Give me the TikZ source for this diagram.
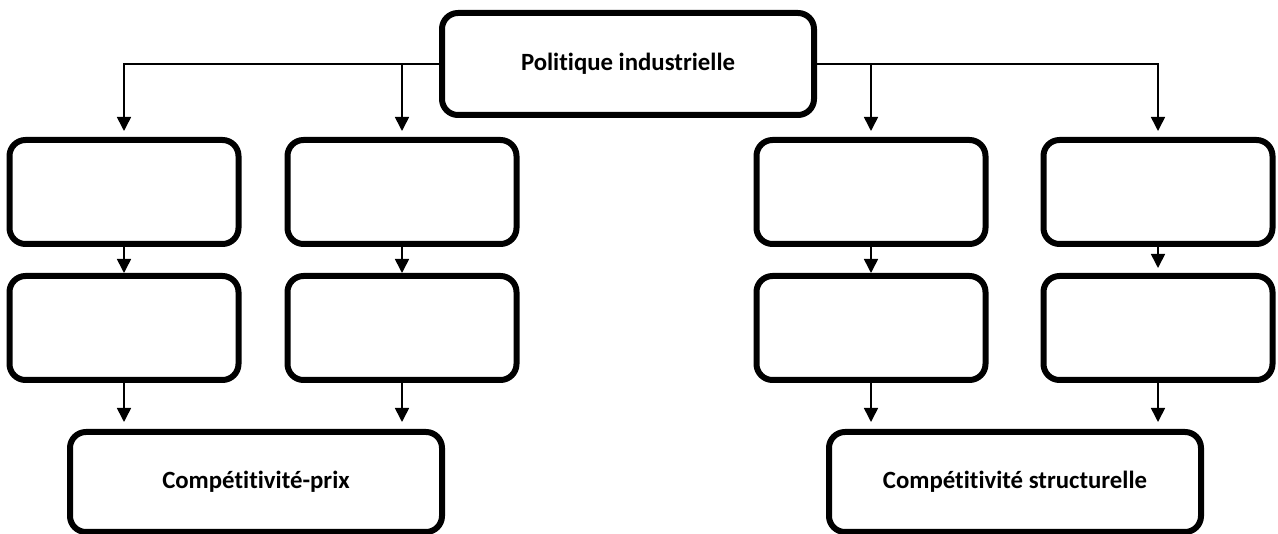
\documentclass[tikz,border=0pt]{standalone}
\usepackage{fontspec}
\setmainfont{Carlito}[Ligatures=NoCommon]
\usetikzlibrary{arrows.meta}
\tikzset{
  box/.style={draw, line width=6pt, rounded corners=16pt, fill=white,
    inner sep=0pt, font=\bfseries\fontsize{24.8}{29}\selectfont},
  smallbox/.style={box, minimum width=229pt, minimum height=104pt},
  bigbox/.style={box, minimum width=372pt},
  arr/.style={draw, line width=1.6pt, -{Triangle[width=14pt,length=14pt]}}
}
\begin{document}
\begin{tikzpicture}[x=1pt,y=-1pt]
\useasboundingbox (0,0) rectangle (1278,534);
\node[bigbox, minimum height=102pt] (top) at (628,64) {Politique industrielle};
\node[smallbox] (A) at (124,192) {};
\node[smallbox] (B) at (402,192) {};
\node[smallbox] (C) at (871,192) {};
\node[smallbox] (D) at (1158,192) {};
\node[smallbox, minimum height=104pt] (A2) at (124,328) {};
\node[smallbox, minimum height=104pt] (B2) at (402,328) {};
\node[smallbox, minimum height=104pt] (C2) at (871,328) {};
\node[smallbox, minimum height=104pt] (D2) at (1158,328) {};
\node[bigbox, minimum height=100pt] (L) at (256,482) {Compétitivité-prix};
\node[bigbox, minimum height=100pt] (R) at (1015,482) {Compétitivité structurelle};
% top connectors
\draw[arr, shorten >=6pt] (top.west) -| (A);
\draw[arr, shorten >=6pt] (top.west -| B) -- (B);
\draw[arr, shorten >=6pt] (top.east) -| (D);
\draw[arr, shorten >=6pt] (top.east -| C) -- (C);
% row 1 to row 2
\draw[arr] (A) -- (A2);
\draw[arr] (B) -- (B2);
\draw[arr] (C) -- (C2);
\draw[arr, shorten >=5pt] (D) -- (D2);
% row 2 to bottom
\draw[arr, shorten >=7pt] (A2) -- (A2 |- L.north);
\draw[arr, shorten >=7pt] (B2) -- (B2 |- L.north);
\draw[arr, shorten >=7pt] (C2) -- (C2 |- R.north);
\draw[arr, shorten >=7pt] (D2) -- (D2 |- R.north);
\end{tikzpicture}
\end{document}
